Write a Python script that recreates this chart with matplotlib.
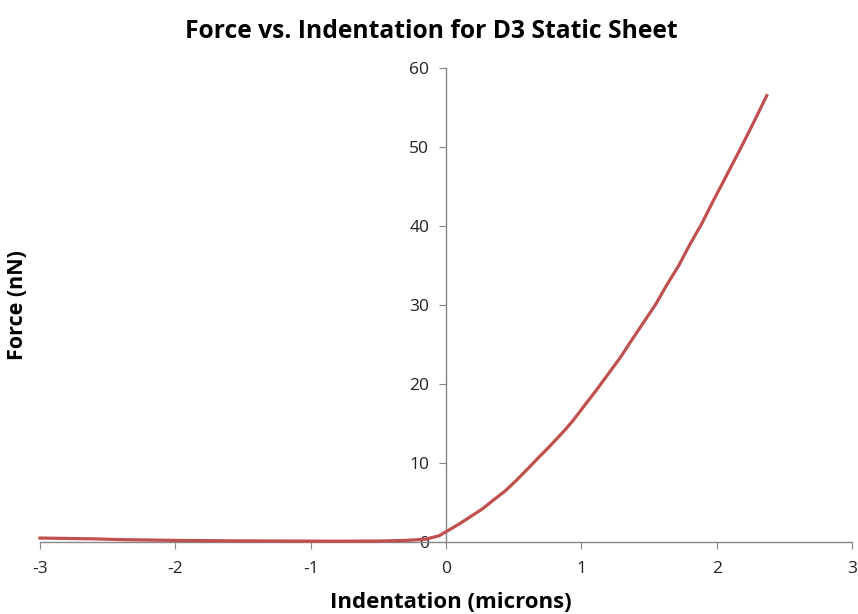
import matplotlib.pyplot as plt

plt.rcParams['font.family'] = ['Open Sans', 'DejaVu Sans']
plt.rcParams['axes.unicode_minus'] = False

indentation = [-3.0, -2.8, -2.6, -2.4, -2.2, -2.0, -1.6, -1.2, -0.8, -0.5, -0.3, -0.15, -0.05,
               0.0, 0.09, 0.18, 0.27, 0.35, 0.44, 0.52, 0.6, 0.69, 0.76, 0.82, 0.88, 0.94,
               1.02, 1.11, 1.2, 1.29, 1.37, 1.46, 1.55, 1.63, 1.72, 1.80, 1.89, 1.975,
               2.07, 2.17, 2.27, 2.37]
force = [0.5, 0.45, 0.4, 0.3, 0.25, 0.2, 0.15, 0.12, 0.1, 0.12, 0.2, 0.35, 0.8,
         1.3, 2.2, 3.2, 4.2, 5.3, 6.5, 7.8, 9.2, 10.8, 12.0, 13.1, 14.2, 15.4,
         17.2, 19.2, 21.3, 23.4, 25.5, 27.8, 30.1, 32.5, 35.0, 37.6, 40.3, 43.2,
         46.3, 49.6, 53.0, 56.5]

x_ticks = [-3, -2, -1, 0, 1, 2, 3]
y_ticks = [0, 10, 20, 30, 40, 50, 60]

fig = plt.figure(figsize=(8.58, 6.14), dpi=100)
ax = fig.add_axes([40 / 858, 1 - 542 / 614, 812 / 858, 474 / 614])

ax.plot(indentation, force, color='#C0504D', linewidth=2.3, zorder=5, clip_on=False)

ax.set_xlim(-3, 3)
ax.set_ylim(0, 60)
ax.set_xticks(x_ticks)
ax.set_yticks(y_ticks)

ax.spines['top'].set_visible(False)
ax.spines['right'].set_visible(False)
ax.spines['left'].set_position(('data', 0))
for s in ['left', 'bottom']:
    ax.spines[s].set_color('#868686')
    ax.spines[s].set_linewidth(1)

ax.tick_params(axis='both', direction='out', length=5, color='#868686',
               labelsize=12.5, labelcolor='#222222')
ax.tick_params(axis='y', pad=7)
ax.tick_params(axis='x', pad=9)

fig.text(431 / 858, 1 - 31 / 614, 'Force vs. Indentation for D3 Static Sheet',
         ha='center', va='center', fontsize=17.7, fontweight='bold')
fig.text(451 / 858, 1 - 603 / 614, 'Indentation (microns)', ha='center', va='center',
         fontsize=16, fontweight='bold')
fig.text(18 / 858, 1 - 305 / 614, 'Force (nN)', ha='center', va='center',
         rotation=90, fontsize=15.5, fontweight='bold')

fig.savefig('out.png', dpi=100)
